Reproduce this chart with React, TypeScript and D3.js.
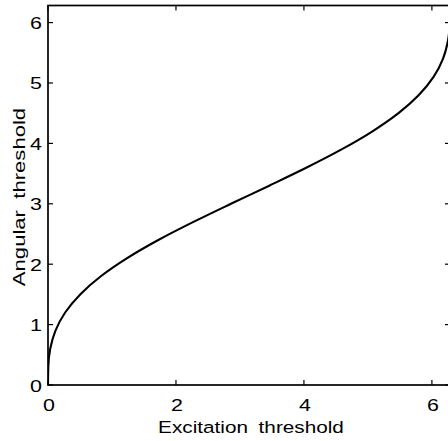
import React from "react";
import * as d3 from "d3";

// Excitation threshold (x) against angular threshold (y), sampled along the curve
const excitation = [0, 0.0045, 0.035, 0.117, 0.268, 0.503, 0.826, 1.237, 1.724, 2.273, 2.859, 3.458, 4.043, 4.588, 5.072, 5.478, 5.796, 6.026, 6.173, 6.251, 6.279, 6.283];
const angular = [0, 0.3, 0.6, 0.9, 1.2, 1.5, 1.8, 2.1, 2.4, 2.7, 3.0, 3.3, 3.6, 3.9, 4.2, 4.5, 4.8, 5.1, 5.4, 5.7, 6.0, 6.283];

const xTicks = [0, 2, 4, 6];
const yTicks = [0, 1, 2, 3, 4, 5, 6];
const axisMax = 6.283;

const W = 448;
const H = 441;
const left = 48;
const right = 450;
const top = 5.5;
const bottom = 385;
const tickLen = 5;
const font = "Liberation Sans, Arial, Helvetica, sans-serif";
// the lettering is set wide: glyphs are stretched along the reading direction
const tickSize = 16.5;
const tickStretch = 1.3;
const titleSize = 17;
const titleStretch = 1.22;
const yTitleStretch = 1.3;

export default function App() {
  const x = d3.scaleLinear().domain([0, axisMax]).range([left, right]);
  const y = d3.scaleLinear().domain([0, axisMax]).range([bottom, top]);

  const pts: [number, number][] = excitation.map((e, i) => [e, angular[i]]);
  const line = d3
    .line<[number, number]>()
    .x((d) => x(d[0]))
    .y((d) => y(d[1]))
    .curve(d3.curveMonotoneY);

  return (
    <div style={{ position: "fixed", left: 0, top: 0, width: W, height: H, background: "#fff" }}>
      <svg width={W} height={H} style={{ display: "block" }}>
        <defs>
          <clipPath id="plot">
            <rect x={left} y={top} width={right - left} height={bottom - top} />
          </clipPath>
        </defs>
        <rect width={W} height={H} fill="#fff" />

        <path d={line(pts) ?? ""} fill="none" stroke="#000" strokeWidth={2.1} clipPath="url(#plot)" />

        {/* frame */}
        <rect x={left} y={top} width={right - left} height={bottom - top} fill="none" stroke="#000" strokeWidth={1.7} />

        {/* ticks on all four sides, pointing inward */}
        {xTicks.map((t) => (
          <g key={"x" + t}>
            <line x1={x(t)} x2={x(t)} y1={bottom} y2={bottom - tickLen} stroke="#000" strokeWidth={1.2} />
            <line x1={x(t)} x2={x(t)} y1={top} y2={top + tickLen} stroke="#000" strokeWidth={1.2} />
            <text
              transform={`translate(${x(t) + 1}, 410.5) scale(${tickStretch}, 1)`}
              textAnchor="middle"
              fontFamily={font}
              fontSize={tickSize}
            >
              {t}
            </text>
          </g>
        ))}
        {yTicks.map((t) => (
          <g key={"y" + t}>
            <line x1={left} x2={left + tickLen} y1={y(t)} y2={y(t)} stroke="#000" strokeWidth={1.2} />
            <line x1={right} x2={right - tickLen} y1={y(t)} y2={y(t)} stroke="#000" strokeWidth={1.2} />
            <text
              transform={`translate(42, ${y(t) + 6.5}) scale(${tickStretch}, 1)`}
              textAnchor="end"
              fontFamily={font}
              fontSize={tickSize}
            >
              {t}
            </text>
          </g>
        ))}

        <text
          transform={`translate(${(left + right) / 2 + 2}, 433) scale(${titleStretch}, 1)`}
          textAnchor="middle"
          fontFamily={font}
          fontSize={titleSize}
          wordSpacing={4}
        >
          Excitation threshold
        </text>
        <text
          transform={`translate(25, 197) rotate(-90) scale(${yTitleStretch}, 1)`}
          textAnchor="middle"
          fontFamily={font}
          fontSize={titleSize}
          wordSpacing={4}
        >
          Angular threshold
        </text>
      </svg>
    </div>
  );
}
